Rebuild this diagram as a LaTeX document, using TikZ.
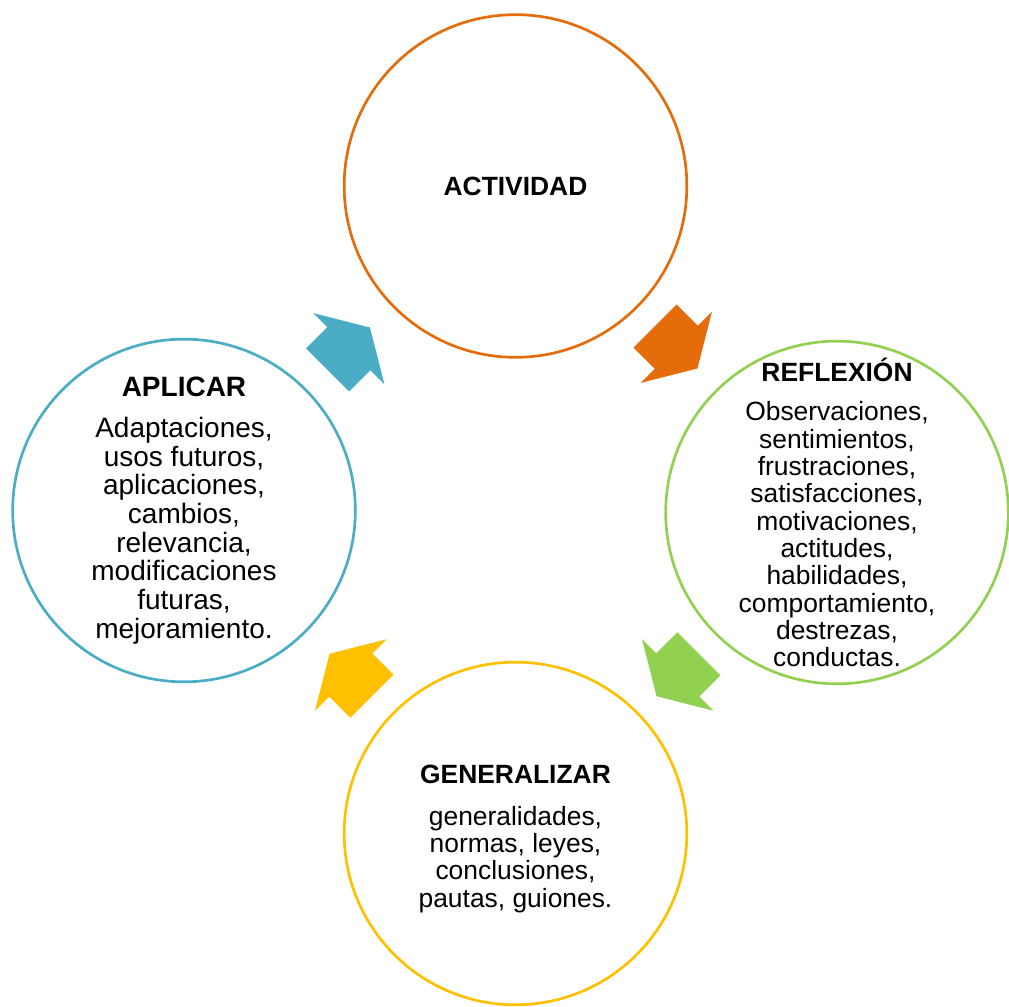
\documentclass[tikz,border=0pt]{standalone}
\usepackage{fontspec}
\setmainfont{Liberation Sans}
\usetikzlibrary{calc, positioning}
\definecolor{naranja}{HTML}{E46C0A}
\definecolor{verde}{HTML}{92D050}
\definecolor{amarillo}{HTML}{FFC000}
\definecolor{azul}{HTML}{4BACC6}

\begin{document}
\begin{tikzpicture}[x=0.75pt, y=0.75pt,
        ciclo/.style={circle, draw, line width=2pt, minimum size=257pt, inner sep=0pt},
        texto/.style={align=center, font=\fontsize{19.8}{20.5}\selectfont},
        flecha/.pic={\fill (-30,30.5) -- (0,30.5) -- (0,50.5) -- (30,0) -- (0,-50.5) -- (0,-30.5) -- (-30,-30.5) -- cycle;}]
        \useasboundingbox (0,0) rectangle (1009,1006);

        % circulos del ciclo
        \node[ciclo, naranja] (act) at (515.5,820) {};
        \node[ciclo, verde] (refl) at (837,493.5) {};
        \node[ciclo, amarillo] (gen) at (515.5,172.5) {};
        \node[ciclo, azul] (apl) at (184,495.5) {};

        \node[texto] (act-t) at (act) {\textbf{ACTIVIDAD}};
        \node[texto] (refl-t) at (refl) {\textbf{REFLEXIÓN}\\[9pt]
            Observaciones,\\ sentimientos,\\ frustraciones,\\ satisfacciones,\\ motivaciones,\\
            actitudes,\\ habilidades,\\ comportamiento,\\ destrezas,\\ conductas.};
        \node[texto, yshift=-4pt] (gen-t) at (gen) {\textbf{GENERALIZAR}\\[11pt]
            generalidades,\\ normas, leyes,\\ conclusiones,\\ pautas, guiones.};
        \node[texto, font=\fontsize{21}{21.5}\selectfont] (apl-t) at (apl) {\textbf{APLICAR}\\[9pt]
            Adaptaciones,\\ usos futuros,\\ aplicaciones,\\ cambios,\\ relevancia,\\
            modificaciones\\ futuras,\\ mejoramiento.};

        % flechas entre circulos
        \pic[fill=naranja, rotate=-45] at ($(act)!0.5!(refl)+(0,2)$) {flecha};
        \pic[fill=verde, rotate=-135] at ($(refl)!0.5!(gen)+(1.5,-2)$) {flecha};
        \pic[fill=amarillo, rotate=135] at ($(gen)!0.5!(apl)+(1,-3)$) {flecha};
        \pic[fill=azul, rotate=45] at ($(apl)!0.5!(act)+(-1,-0.5)$) {flecha};
    \end{tikzpicture}
\end{document}
